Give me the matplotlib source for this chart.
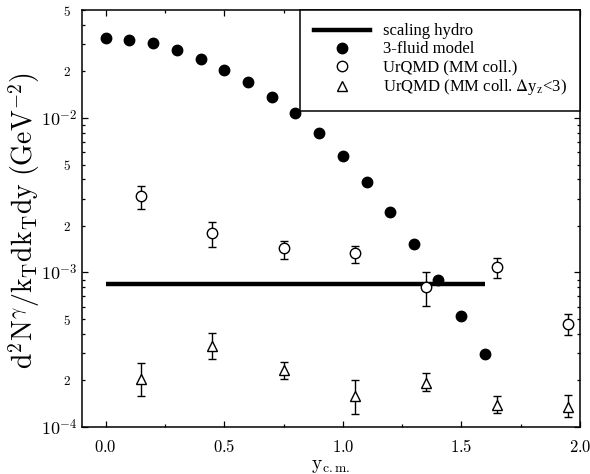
import matplotlib
matplotlib.use('Agg')
import matplotlib.pyplot as plt
from matplotlib.lines import Line2D
from matplotlib.ticker import FixedLocator, FixedFormatter, MultipleLocator

# ---------------- data ----------------
y_fluid = [0.0, 0.1, 0.2, 0.3, 0.4, 0.5, 0.6, 0.7, 0.8, 0.9, 1.0, 1.1, 1.2, 1.3, 1.4, 1.5, 1.6]
dn_fluid = [3.28e-2, 3.18e-2, 3.05e-2, 2.75e-2, 2.40e-2, 2.04e-2, 1.71e-2, 1.36e-2, 1.08e-2,
            8.0e-3, 5.7e-3, 3.87e-3, 2.48e-3, 1.52e-3, 9.0e-4, 5.2e-4, 2.96e-4]

hydro_y = [0.0, 1.6]
hydro_val = [8.4e-4, 8.4e-4]

y_urqmd = [0.15, 0.45, 0.75, 1.05, 1.35, 1.65, 1.95]
dn_urqmd = [3.14e-3, 1.81e-3, 1.43e-3, 1.33e-3, 8.0e-4, 1.08e-3, 4.62e-4]
urqmd_hi = [3.64e-3, 2.13e-3, 1.61e-3, 1.49e-3, 1.01e-3, 1.25e-3, 5.36e-4]
urqmd_lo = [2.59e-3, 1.47e-3, 1.23e-3, 1.16e-3, 6.03e-4, 9.15e-4, 3.92e-4]

dn_cut = [2.04e-4, 3.33e-4, 2.33e-4, 1.58e-4, 1.92e-4, 1.39e-4, 1.35e-4]
cut_hi = [2.59e-4, 4.04e-4, 2.63e-4, 2.01e-4, 2.23e-4, 1.58e-4, 1.61e-4]
cut_lo = [1.58e-4, 2.75e-4, 2.04e-4, 1.21e-4, 1.71e-4, 1.23e-4, 1.16e-4]

x_ticks = [0.0, 0.5, 1.0, 1.5, 2.0]
x_ticklabels = [r'$\mathrm{0.0}$', r'$\mathrm{0.5}$', r'$\mathrm{1.0}$', r'$\mathrm{1.5}$', r'$\mathrm{2.0}$']
y_major = [1e-4, 1e-3, 1e-2]
y_major_labels = [r'$10^{\mathrm{-4}}$', r'$10^{\mathrm{-3}}$', r'$10^{\mathrm{-2}}$']
y_minor_mult = [2, 3, 4, 5, 6, 7, 8, 9]

legend_labels = ['scaling hydro', '3-fluid model', 'UrQMD (MM coll.)',
                 r'UrQMD (MM coll. $\Delta$y$_\mathrm{z}$<3)']

# ---------------- style ----------------
plt.rcParams['font.family'] = ['Liberation Serif', 'DejaVu Serif']
plt.rcParams['mathtext.fontset'] = 'cm'

fig = plt.figure(figsize=(5.9, 4.74), dpi=100)
ax = fig.add_axes([82/590, 1 - 427/474, 498/590, 417/474])

ax.set_yscale('log')
ax.set_xlim(-0.1, 2.0)
ax.set_ylim(1e-4, 5e-2)

ax.plot(hydro_y, hydro_val, color='black', lw=3.2, solid_capstyle='butt', zorder=2)
ax.plot(y_fluid, dn_fluid, 'o', color='black', ms=7.5, zorder=3)

err_u = [[v - l for v, l in zip(dn_urqmd, urqmd_lo)], [h - v for v, h in zip(dn_urqmd, urqmd_hi)]]
ax.errorbar(y_urqmd, dn_urqmd, yerr=err_u, fmt='o', mfc='white', mec='black', color='black',
            ms=7.5, mew=1.0, elinewidth=1.0, capsize=2.8, capthick=1.0, zorder=3)
err_c = [[v - l for v, l in zip(dn_cut, cut_lo)], [h - v for v, h in zip(dn_cut, cut_hi)]]
ax.errorbar(y_urqmd, dn_cut, yerr=err_c, fmt='^', mfc='white', mec='black', color='black',
            ms=7.5, mew=1.0, elinewidth=1.0, capsize=2.8, capthick=1.0, zorder=3)

# ticks
ax.xaxis.set_major_locator(FixedLocator(x_ticks))
ax.xaxis.set_major_formatter(FixedFormatter(x_ticklabels))
ax.xaxis.set_minor_locator(MultipleLocator(0.25))
minor_locs = []
minor_labs = []
for dec in [1e-4, 1e-3, 1e-2]:
    for m in y_minor_mult:
        v = m * dec
        if v <= 5e-2 * 1.0001:
            minor_locs.append(v)
            minor_labs.append(r'$\mathrm{%d}$' % m if m in (2, 5) else '')
ax.yaxis.set_major_locator(FixedLocator(y_major))
ax.yaxis.set_major_formatter(FixedFormatter(y_major_labels))
ax.yaxis.set_minor_locator(FixedLocator(minor_locs))
ax.yaxis.set_minor_formatter(FixedFormatter(minor_labs))

ax.tick_params(which='both', direction='in', top=True, right=True, width=0.9)
ax.tick_params(which='major', length=4.5)
ax.tick_params(which='minor', length=2.5)
ax.tick_params(axis='x', which='major', labelsize=12, pad=9)
ax.tick_params(axis='y', which='major', labelsize=13, pad=3)
ax.tick_params(axis='y', which='minor', labelsize=9.5, pad=8)
for sp in ax.spines.values():
    sp.set_linewidth(1.1)

# legend
handles = [
    Line2D([], [], color='black', lw=3.2),
    Line2D([], [], ls='none', marker='o', color='black', ms=7.5),
    Line2D([], [], ls='none', marker='o', mfc='white', mec='black', ms=7.5),
    Line2D([], [], ls='none', marker='^', mfc='white', mec='black', ms=7.5),
]
leg = ax.legend(handles, legend_labels, loc='upper right', bbox_to_anchor=(1, 1),
                borderaxespad=0, fancybox=False, framealpha=1, edgecolor='black',
                fontsize=12, handlelength=3.4, handletextpad=0.73, borderpad=0.8,
                labelspacing=0.12)
leg.get_frame().set_linewidth(1.1)
for t in leg.get_texts():
    t.set_math_fontfamily('stix')

fig.text(24/590, 1 - 221/474,
         r'$\mathrm{d^2N^{\gamma}/k_Tdk_Tdy\ (GeV^{-2})}$',
         rotation=90, ha='center', va='center', fontsize=20)
fig.text(331/590, 1 - 469/474, r'$\mathrm{y_{c.m.}}$', ha='center', va='baseline', fontsize=14)

fig.savefig('out.png', dpi=100)
